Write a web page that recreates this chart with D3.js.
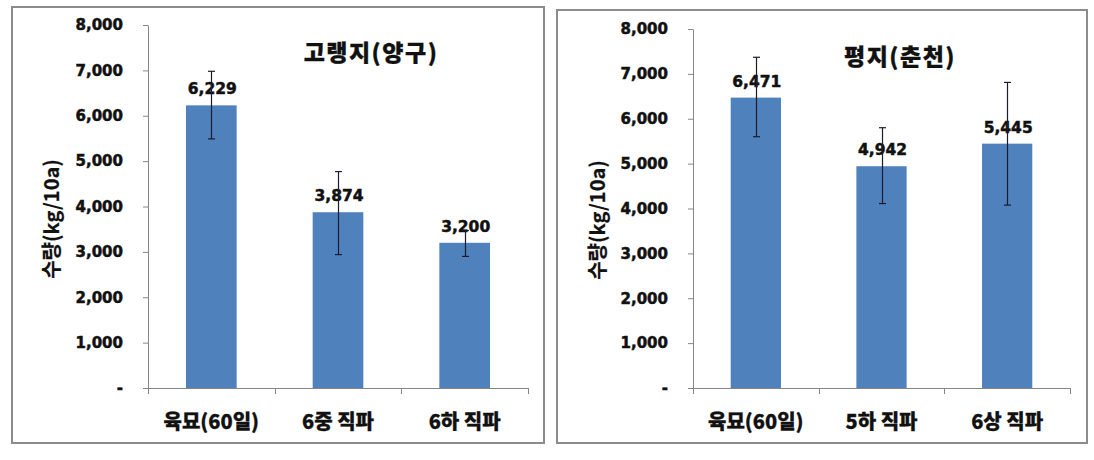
<!DOCTYPE html>
<html>
<head>
<meta charset="utf-8">
<script src="https://cdn.jsdelivr.net/npm/d3@7"></script>
<style>
  html, body { margin: 0; padding: 0; background: #fff; }
  svg { display: block; }
</style>
</head>
<body>
<svg id="chart" width="1094" height="460"></svg>
<script>
// ---- Data ----
const yTicks = [0, 1000, 2000, 3000, 4000, 5000, 6000, 7000, 8000];
const yTickLabels = ["-", "1,000", "2,000", "3,000", "4,000", "5,000", "6,000", "7,000", "8,000"];
const yAxisTitle = "수량(kg/10a)";

const titleA = "고랭지(양구)";
const categoriesA = ["육묘(60일)", "6중 직파", "6하 직파"];
const valuesA = [6229, 3874, 3200];
const errLowA = [5490, 2940, 2900];
const errHighA = [6980, 4770, 3470];

const titleB = "평지(춘천)";
const categoriesB = ["육묘(60일)", "5하 직파", "6상 직파"];
const valuesB = [6471, 4942, 5445];
const errLowB = [5600, 4110, 4075];
const errHighB = [7370, 5800, 6810];

// ---- Layout ----
const panels = [
  { title: titleA, cats: categoriesA, vals: valuesA, lo: errLowA, hi: errHighA,
    frame: { x: 12, y: 7, w: 532, h: 436 },
    plot: { x0: 148, x1: 528, y0: 25, y1: 388 },
    titlePos: { x: 371, y: 51 }, yTitlePos: { x: 50, y: 219 } },
  { title: titleB, cats: categoriesB, vals: valuesB, lo: errLowB, hi: errHighB,
    frame: { x: 557, y: 10, w: 530, h: 433 },
    plot: { x0: 693, x1: 1070, y0: 29, y1: 388 },
    titlePos: { x: 900, y: 55 }, yTitlePos: { x: 596, y: 220 } }
];

const svg = d3.select("#chart");
const numFont = "'DejaVu Sans', Verdana, sans-serif";
const korFont = "'Noto Sans CJK KR', 'Noto Sans', sans-serif";
const axisColor = "#868686";
const barColor = "#4F81BD";
const txtColor = "#111";

function heavy(sel, w) {
  return sel.attr("stroke", txtColor).attr("stroke-width", w).attr("paint-order", "stroke");
}

panels.forEach(p => {
  const g = svg.append("g");
  g.append("rect")
    .attr("x", p.frame.x).attr("y", p.frame.y)
    .attr("width", p.frame.w).attr("height", p.frame.h)
    .attr("fill", "#fff").attr("stroke", "#8c8c8c").attr("stroke-width", 2);

  const x = d3.scaleBand().domain(p.cats).range([p.plot.x0, p.plot.x1]).paddingInner(0).paddingOuter(0);
  const y = d3.scaleLinear().domain([0, 8000]).range([p.plot.y1, p.plot.y0]);

  // y axis
  const yAxis = d3.axisLeft(y).tickValues(yTicks)
    .tickFormat((d, i) => yTickLabels[i]).tickSize(5).tickPadding(20).tickSizeOuter(0);
  const ya = g.append("g").attr("transform", `translate(${p.plot.x0},0)`).call(yAxis);
  ya.select(".domain").attr("stroke", axisColor);
  ya.selectAll(".tick line").attr("stroke", axisColor);
  heavy(ya.selectAll(".tick text")
    .attr("font-family", numFont).attr("font-weight", "bold").attr("font-size", 15)
    .attr("fill", txtColor), 0.5);

  // x axis line + boundary ticks
  const bounds = p.cats.map(c => x(c)).concat([x(p.cats[p.cats.length - 1]) + x.bandwidth()]);
  g.append("line").attr("x1", p.plot.x0).attr("x2", p.plot.x1)
    .attr("y1", p.plot.y1 + 0.5).attr("y2", p.plot.y1 + 0.5).attr("stroke", axisColor);
  g.selectAll(".xt").data(bounds).enter().append("line")
    .attr("x1", d => Math.round(d) + 0.5).attr("x2", d => Math.round(d) + 0.5)
    .attr("y1", p.plot.y1).attr("y2", p.plot.y1 + 6).attr("stroke", axisColor);

  // category labels
  heavy(g.selectAll(".cat").data(p.cats).enter().append("text")
    .attr("x", d => x(d) + x.bandwidth() / 2).attr("y", 429)
    .attr("text-anchor", "middle")
    .attr("font-family", korFont).attr("font-weight", 900).attr("font-size", 20)
    .attr("fill", txtColor).text(d => d), 0.3);

  // bars
  const bw = x.bandwidth() * 0.4;
  g.selectAll(".bar").data(p.vals).enter().append("rect")
    .attr("x", (d, i) => x(p.cats[i]) + (x.bandwidth() - bw) / 2)
    .attr("y", d => y(d)).attr("width", bw).attr("height", d => y(0) - y(d))
    .attr("fill", barColor);

  // value labels
  heavy(g.selectAll(".val").data(p.vals).enter().append("text")
    .attr("x", (d, i) => x(p.cats[i]) + x.bandwidth() / 2 + 1)
    .attr("y", d => y(d) - 11)
    .attr("text-anchor", "middle")
    .attr("font-family", numFont).attr("font-weight", "bold").attr("font-size", 15.5)
    .attr("fill", txtColor).text(d => d3.format(",")(d)), 0.5);

  // error bars
  p.vals.forEach((v, i) => {
    const cx = Math.round(x(p.cats[i]) + x.bandwidth() / 2) + 0.5;
    const eg = g.append("g").attr("stroke", "#1b1b2a").attr("stroke-width", 1.2);
    eg.append("line").attr("x1", cx).attr("x2", cx).attr("y1", y(p.hi[i])).attr("y2", y(p.lo[i]));
    eg.append("line").attr("x1", cx - 3.5).attr("x2", cx + 3.5).attr("y1", y(p.hi[i])).attr("y2", y(p.hi[i]));
    eg.append("line").attr("x1", cx - 3.5).attr("x2", cx + 3.5).attr("y1", y(p.lo[i])).attr("y2", y(p.lo[i]));
  });

  // chart title
  heavy(g.append("text").attr("x", p.titlePos.x).attr("y", p.titlePos.y)
    .attr("text-anchor", "middle").attr("dominant-baseline", "central")
    .attr("font-family", korFont).attr("font-weight", 900).attr("font-size", 23)
    .attr("letter-spacing", 1.5)
    .attr("fill", txtColor).text(p.title), 0.3);

  // y axis title
  heavy(g.append("text")
    .attr("transform", `translate(${p.yTitlePos.x},${p.yTitlePos.y}) rotate(-90)`)
    .attr("text-anchor", "middle").attr("dominant-baseline", "central")
    .attr("font-family", korFont).attr("font-weight", "bold").attr("font-size", 20)
    .attr("fill", txtColor).text(yAxisTitle), 0.2);
});
</script>
</body>
</html>
